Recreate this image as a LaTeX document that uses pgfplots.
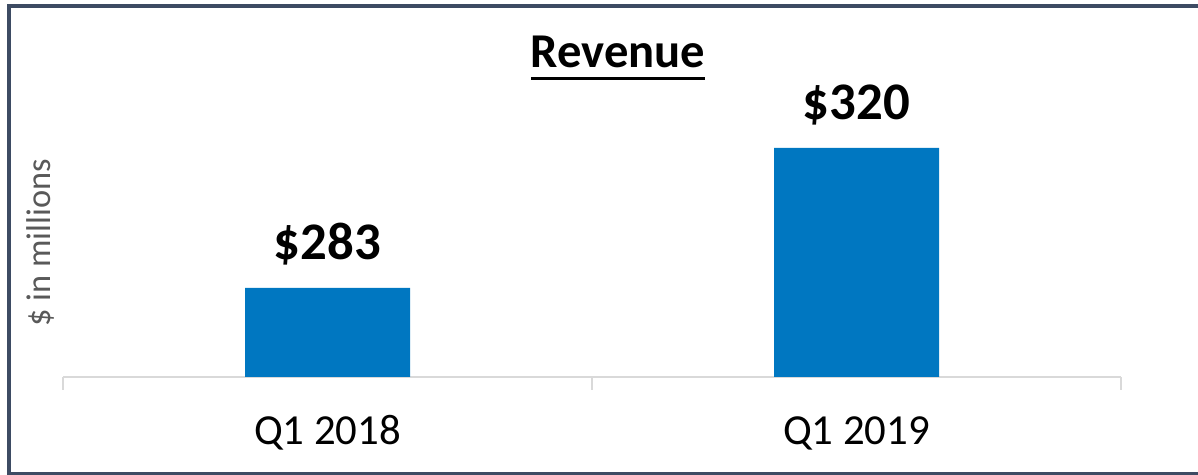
\documentclass[border=0pt]{standalone}
\usepackage{pgfplots}
\pgfplotsset{compat=1.18}
\usepackage{fontspec}
\setmainfont{Carlito}
\definecolor{barblue}{HTML}{0077C1}
\definecolor{framec}{HTML}{3D4B63}
\definecolor{tickgray}{HTML}{D9D9D9}
\definecolor{labgray}{HTML}{595959}
\begin{document}
\begin{tikzpicture}[x=0.5pt,y=0.5pt]
\useasboundingbox (0,0) rectangle (1198,475);
\clip (0,0) rectangle (1198,475);
\draw[framec, line width=2pt] (9,1) rectangle (1215,469);
\node[anchor=base, font=\bfseries\fontsize{24.3}{28}\selectfont] at (618,407) {Revenue};
\fill (531,394.8) rectangle (705,398.3);
\node[rotate=90, font=\fontsize{17.2}{20}\selectfont, text=labgray] at (40,232) {\$ in millions};
\begin{axis}[
  at={(31.5pt,49pt)}, anchor=south west,
  width=529pt, height=151.5pt, scale only axis,
  xmin=-0.5, xmax=1.5, ymin=259.5, ymax=339.5,
  hide y axis,
  axis x line*=bottom,
  x axis line style={-, draw=tickgray, line width=1pt},
  xtick={0,1}, xticklabels={Q1 2018, Q1 2019},
  major tick length=0pt,
  xtick pos=bottom,
  xticklabel style={anchor=base, yshift=-34pt, font=\fontsize{21.4}{25}\selectfont},
  extra x ticks={-0.5,0.5,1.5}, extra x tick labels={},
  extra x tick style={major tick length=6.5pt, tick align=outside, tick style={draw=tickgray, line width=1pt}},
  ybar, bar width=82.5pt, bar shift=0pt,
  point meta=explicit symbolic,
  nodes near coords,
  every node near coord/.append style={anchor=base, yshift=14pt, font=\bfseries\fontsize{26.4}{30}\selectfont, text=black},
  clip=false,
]
\addplot[fill=barblue, draw=none] coordinates {(0,283) [\$283] (1,320) [\$320]};
\end{axis}
\end{tikzpicture}
\end{document}
